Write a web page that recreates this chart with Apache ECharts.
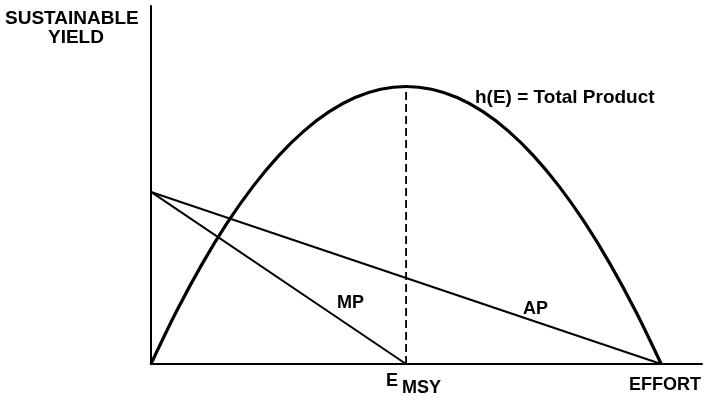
<!DOCTYPE html>
<html>
<head>
<meta charset="utf-8">
<script src="https://cdn.jsdelivr.net/npm/echarts@6/dist/echarts.min.js"></script>
<style>
  html, body { margin: 0; padding: 0; background: #fff; }
  #chart { width: 705px; height: 400px; }
</style>
</head>
<body>
<div id="chart"></div>
<script>
// effort (E_MSY = 50, max effort = 100)
var effort = [0, 5, 10, 15, 20, 25, 30, 35, 40, 45, 50, 55, 60, 65, 70, 75, 80, 85, 90, 95, 100];
// h(E) total product, sustainable yield
var totalProduct = [0, 19, 36, 51, 64, 75, 84, 91, 96, 99, 100, 99, 96, 91, 84, 75, 64, 51, 36, 19, 0];
// marginal and average product (straight lines)
var mpEffort = [0, 50];
var mpValue = [62, 0];
var apEffort = [0, 100];
var apValue = [62, 0];
// E_MSY marker
var eMsy = 50;
var msyYield = 100;

function pairs(xs, ys) {
  return xs.map(function (x, i) { return [x, ys[i]]; });
}

var font = '"Liberation Sans", Arial, sans-serif';
function label(text, left, top, size) {
  return { type: 'text', left: left, top: top, style: { text: text, font: 'bold ' + size + 'px ' + font, fill: '#000' } };
}

var chart = echarts.init(document.getElementById('chart'));

chart.setOption({
  animation: false,
  backgroundColor: '#fff',
  grid: { left: 151, right: 3, top: 6, bottom: 36 },
  xAxis: {
    type: 'value',
    min: 0,
    max: 108,
    axisLine: { lineStyle: { color: '#000', width: 2 } },
    axisTick: { show: false },
    axisLabel: { show: false },
    splitLine: { show: false }
  },
  yAxis: {
    type: 'value',
    min: 0,
    max: 129,
    axisLine: { show: true, lineStyle: { color: '#000', width: 2 } },
    axisTick: { show: false },
    axisLabel: { show: false },
    splitLine: { show: false }
  },
  series: [
    {
      name: 'h(E)',
      type: 'line',
      data: pairs(effort, totalProduct),
      smooth: 0.35,
      showSymbol: false,
      lineStyle: { color: '#000', width: 3.2 }
    },
    {
      name: 'MP',
      type: 'line',
      data: pairs(mpEffort, mpValue),
      showSymbol: false,
      lineStyle: { color: '#000', width: 2 }
    },
    {
      name: 'AP',
      type: 'line',
      data: pairs(apEffort, apValue),
      showSymbol: false,
      lineStyle: { color: '#000', width: 2 }
    },
    {
      name: 'MSY',
      type: 'line',
      data: [[eMsy, 0], [eMsy, msyYield]],
      showSymbol: false,
      lineStyle: { color: '#000', width: 1.8, type: [8, 4] }
    }
  ],
  graphic: [
    label('SUSTAINABLE', 5, 9, 19),
    label('YIELD', 48, 28, 19),
    label('h(E) = Total Product', 475, 88, 19),
    label('MP', 337, 294, 18),
    label('AP', 523, 300, 18),
    label('E', 386, 372, 18),
    label('MSY', 402, 379, 18),
    { type: 'text', right: 4, top: 376, style: { text: 'EFFORT', font: 'bold 18px ' + font, fill: '#000' } }
  ]
});
</script>
</body>
</html>
